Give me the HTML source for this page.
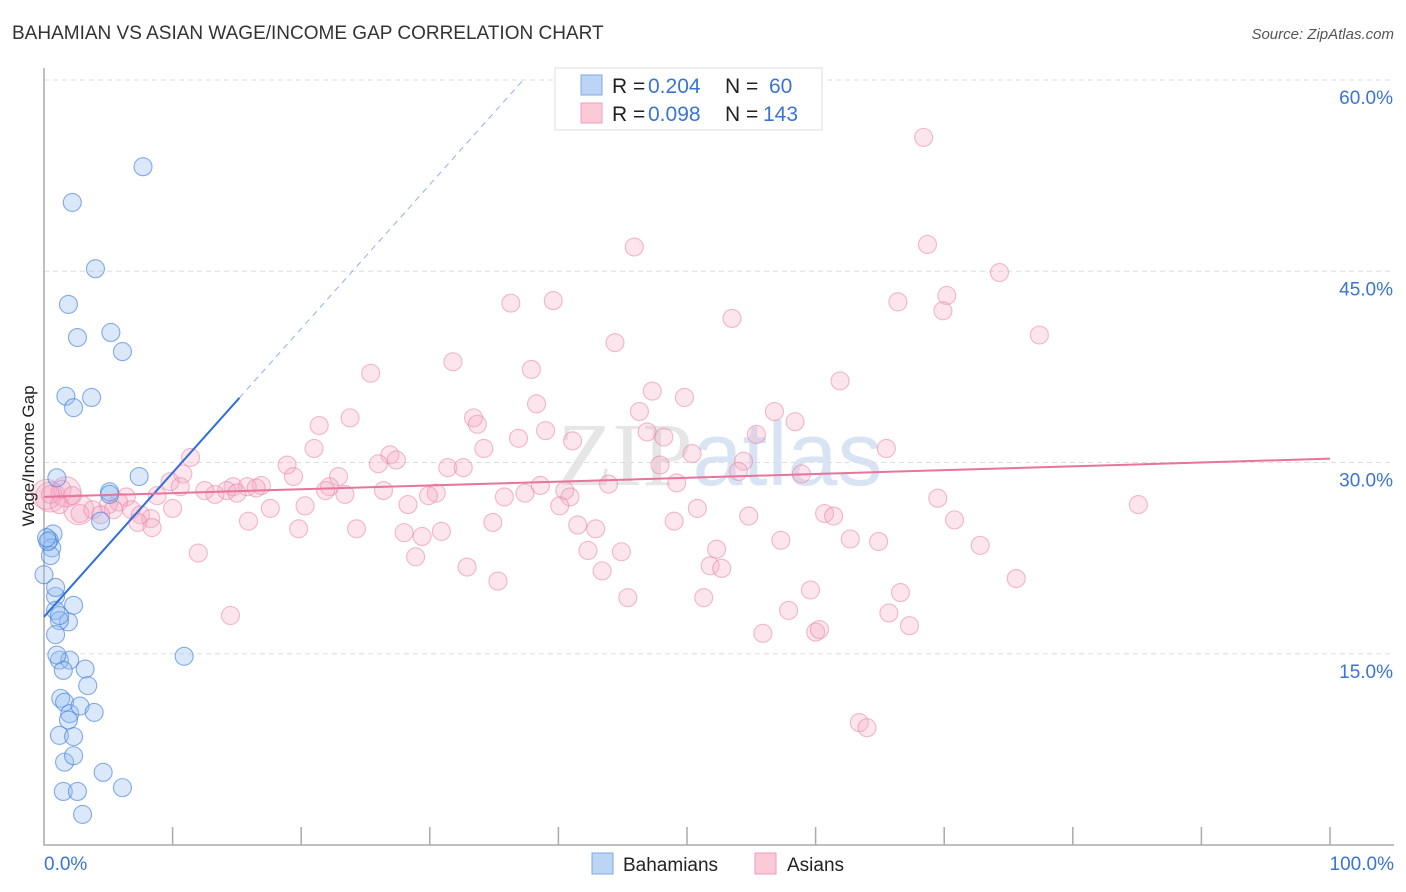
<!DOCTYPE html>
<html><head><meta charset="utf-8"><style>
body{margin:0;background:#fff;font-family:"Liberation Sans",sans-serif;}
svg{display:block}
</style></head><body>
<svg width="1406" height="892" id="c">
<text x="12" y="39" font-size="19" fill="#333">BAHAMIAN VS ASIAN WAGE/INCOME GAP CORRELATION CHART</text>
<text x="1394" y="39" font-size="15" fill="#555" font-style="italic" text-anchor="end">Source: ZipAtlas.com</text>
<text x="720" y="485" font-size="90" fill="#e6e6e6" text-anchor="middle" font-family="Liberation Serif,serif">ZIP<tspan fill="#d8e4f4" font-family="Liberation Sans,sans-serif">atlas</tspan></text>
<g id="grid"></g><g id="pts"></g><g id="lines"></g>
<text transform="translate(34,456) rotate(-90)" font-size="17" fill="#222" text-anchor="middle">Wage/Income Gap</text>
<g font-size="21">
<rect x="555" y="68" width="267" height="62" fill="#fff" stroke="#ddd"/>
<rect x="581" y="75" width="21" height="20" fill="#bcd5f5" stroke="#7fa8e5"/>
<rect x="581" y="103" width="21" height="20" fill="#fbc9d8" stroke="#ee9fb8"/>
<text x="612" y="93" fill="#222">R =</text>
<text x="648" y="93" fill="#3a74d4">0.204</text>
<text x="725" y="93" fill="#222">N =</text>
<text x="769" y="93" fill="#3a74d4">60</text>
<text x="612" y="121" fill="#222">R =</text>
<text x="648" y="121" fill="#3a74d4">0.098</text>
<text x="725" y="121" fill="#222">N =</text>
<text x="763" y="121" fill="#3a74d4">143</text>
</g>
<g>
<rect x="592" y="853" width="21" height="21" fill="#bcd5f5" stroke="#7fa8e5"/>
<text x="623" y="871" font-size="19" fill="#222">Bahamians</text>
<rect x="755" y="853" width="21" height="21" fill="#fbc9d8" stroke="#ee9fb8"/>
<text x="787" y="871" font-size="19" fill="#222">Asians</text>
</g>
</svg>
<script>
const yTicks=[15,30,45,60];
const yTickLabels=["15.0%","30.0%","45.0%","60.0%"];
const xTickLabels=["0.0%","100.0%"];
const blueX=[7.7,2.2,4.0,1.9,2.6,5.2,6.1,1.7,3.7,2.3,1.0,5.1,7.4,4.4,0.7,0.4,0.6,0.5,0,0.9,0.9,2.3,1.9,1.2,0.9,1.2,2.0,1.5,3.2,3.4,1.3,1.6,2.0,2.8,3.9,1.9,1.2,2.3,1.6,2.3,4.6,1.5,2.6,6.1,3.0,10.9,0.3,0.9,1.0,0.2,1.2,5.1];
const blueY=[53.2,50.4,45.2,42.4,39.8,40.2,38.7,35.2,35.1,34.3,28.8,27.7,28.9,25.4,24.4,23.9,23.3,22.7,21.2,19.5,18.4,18.8,17.5,17.6,16.5,14.5,14.5,13.7,13.8,12.5,11.5,11.2,10.3,10.9,10.4,9.8,8.6,8.5,6.5,7.0,5.7,4.2,4.2,4.5,2.4,14.8,23.8,20.2,14.9,24.1,18.0,27.5];
const pinkX=[68.4,45.9,68.7,74.3,36.3,39.6,66.4,70.2,69.9,53.5,77.4,44.4,31.8,25.4,37.9,61.9,47.3,49.8,38.3,46.3,56.8,33.4,23.8,21.4,33.7,58.4,36.9,39.0,46.9,48.2,55.4,41.1,34.2,21.0,65.5,26.9,50.4,27.4,11.4,54.4,26.0,18.9,31.4,32.6,47.9,54.0,58.9,10.8,9.8,19.4,22.9,43.9,49.2,22.2,14.7,16.9,15.8,12.5,14.2,16.5,15.0,13.3,10.6,21.9,23.4,26.4,30.5,29.9,37.4,35.8,40.5,40.9,6.4,5.8,8.8,1.4,2.2,0.5,1.2,2.8,3.8,5.0,5.4,6.8,7.5,8.3,10.0,7.3,8.4,17.6,28.3,20.3,40.1,50.8,69.5,85.1,60.7,61.4,70.8,54.8,34.9,15.9,41.5,42.9,24.3,19.8,49.0,28.0,30.9,29.4,57.3,62.7,64.9,72.8,42.3,44.9,52.3,12.0,28.9,51.8,52.7,43.4,32.9,35.3,75.6,59.6,45.4,66.6,51.3,14.5,57.9,65.7,67.3,55.9,60.0,60.3,63.4,64.0,38.6,4.4];
const pinkY=[55.5,46.9,47.1,44.9,42.5,42.7,42.6,43.1,41.9,41.3,40.0,39.4,37.9,37.0,37.3,36.4,35.6,35.1,34.6,34.0,34.0,33.5,33.5,32.9,33.0,33.2,31.9,32.5,32.4,32.0,32.2,31.7,31.1,31.1,31.1,30.6,30.7,30.2,30.4,30.1,29.9,29.8,29.6,29.6,29.8,29.3,29.1,29.1,28.5,28.9,28.9,28.3,28.4,28.1,28.1,28.2,28.1,27.8,27.8,28.0,27.6,27.5,28.1,27.8,27.5,27.8,27.6,27.4,27.6,27.3,27.8,27.3,27.3,26.9,27.4,27.9,27.4,27.5,26.7,26.0,26.3,26.7,26.3,26.3,25.9,25.6,26.4,25.3,24.9,26.4,26.7,26.6,26.6,26.4,27.2,26.7,26.0,25.8,25.5,25.8,25.3,25.4,25.1,24.8,24.8,24.8,25.4,24.5,24.6,24.2,23.9,24.0,23.8,23.5,23.1,23.0,23.2,22.9,22.6,21.9,21.7,21.5,21.8,20.7,20.9,20.0,19.4,19.8,19.4,18.0,18.4,18.2,17.2,16.6,16.7,16.9,9.6,9.2,28.2,25.9];
const bigPinkX=[0.5,2.7,1.7,0.2];
const bigPinkY=[27.3,26.3,27.7,27.5];
const blueTrend=[17.9,1.13];
const pinkTrend=[27.3,30.3];
const X=v=>44+v*12.86, Y=v=>845-v*12.75;
const NS="http://www.w3.org/2000/svg";
function mk(t,a,p){const e=document.createElementNS(NS,t);for(const k in a)e.setAttribute(k,a[k]);p.appendChild(e);return e;}
const g=document.getElementById('grid'),pts=document.getElementById('pts'),ln=document.getElementById('lines');
yTicks.forEach((v,i)=>{
 const l=mk('line',{x1:44,x2:1394,y1:Y(v),y2:Y(v),stroke:'#ddd','stroke-dasharray':'5,4'},g);
 
 
 const t=mk('text',{x:1393,y:Y(v)+24,'font-size':19,fill:'#3a74d4','text-anchor':'end'},g);
 t.textContent=yTickLabels[i];
 
 
});
const ax=mk('path',{d:'M44 68V845H1394',fill:'none',stroke:'#aaa','stroke-width':1.5},g);


for(let i=1;i<=10;i++){const t=mk('line',{x1:X(i*10),x2:X(i*10),y1:827,y2:845,stroke:'#aaa','stroke-width':1.5},g);
 
 }
[[0,'start',44],[100,'end',1394]].forEach((a,i)=>{const t=mk('text',{x:a[2],y:870,'font-size':19,fill:'#3a74d4','text-anchor':a[1]},g);t.textContent=xTickLabels[i];
 
 });
function dots(xs,ys,fill,stroke,r,name){xs.forEach((x,i)=>{const c=mk('circle',{cx:X(x),cy:Y(ys[i]),r:r,fill:fill,stroke:stroke,'stroke-width':1.1},pts);
 
 });}
dots(bigPinkX,bigPinkY,'rgba(246,170,196,0.3)','rgba(232,130,165,0.55)',15,'asian-point');
dots(pinkX,pinkY,'rgba(246,170,196,0.3)','rgba(232,130,165,0.55)',9,'asian-point');
dots(blueX,blueY,'rgba(150,190,240,0.35)','rgba(60,120,215,0.6)',9,'bahamian-point');
const bt=v=>blueTrend[0]+blueTrend[1]*v;
let l1=mk('line',{x1:X(0),y1:Y(bt(0)),x2:X(15.2),y2:Y(bt(15.2)),stroke:'#2f6fd8','stroke-width':2},ln);


let l2=mk('line',{x1:X(15.2),y1:Y(bt(15.2)),x2:X(37.2),y2:Y(bt(37.2)),stroke:'#8fb0e6','stroke-width':1,'stroke-dasharray':'6,5'},ln);


let l3=mk('line',{x1:X(0),y1:Y(pinkTrend[0]),x2:X(100),y2:Y(pinkTrend[1]),stroke:'#e8739b','stroke-width':2},ln);


</script>
</body></html>
